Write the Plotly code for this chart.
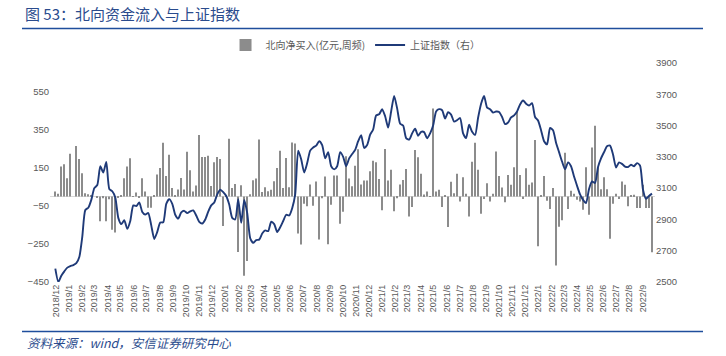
import plotly.graph_objects as go
import pandas as pd

# weekly observation dates (Fridays)
dates = pd.date_range("2018-11-30", periods=200, freq="7D")

# 北向净买入(亿元,周频) - weekly net buying
northbound = [
    26, 14, 157, 169, 96, 225, 0, 265, 197, 122,
    17, 12, 3, 0, -8, -130, -10, -130, -15, -175,
    -190, -5, 8, 96, 157, 201, 2, 21, -8, 96,
    26, -60, -60, 8, 115, 150, 283, 108, 220, 45,
    3, 36, 97, 36, 235, 138, 26, 58, 323, 207,
    207, 214, 55, 180, 208, 197, -155, 3, 303, 45,
    65, -292, 59, -417, -339, 12, 85, 95, 300, 23,
    49, 28, 35, 80, 150, 241, 45, 202, 49, 284,
    279, -195, -253, -38, -51, 63, -49, 79, -227, -9,
    105, -251, -44, 110, 110, -143, -80, 212, 94, 54,
    162, 248, 63, 84, 84, 133, 188, 180, 92, -73,
    250, 84, 140, -78, -9, 63, 87, 145, -105, -56,
    244, 206, 119, 10, 26, 2, 463, 26, 35, -56,
    5, -161, 77, 17, 119, -26, 101, 14, -105, 183,
    283, 140, -91, -14, 70, -26, 14, 236, 108, 47,
    -31, 113, 61, 154, 445, 113, -14, 148, 61, 73,
    297, -262, 3, 108, -22, -66, 44, -363, -160, -125,
    230, -66, 30, 14, -17, -26, -70, 154, -96, 257,
    372, 154, 38, 101, 38, -223, -38, 14, -14, 79,
    61, -52, 3, 9, -61, -61, 61, -61, -61, -293,
]

# 上证指数
sse = [
    2585, 2500, 2540, 2568, 2592, 2602, 2608, 2620, 2660, 2790,
    2960, 2975, 3025, 3100, 3120, 3240, 3200, 3268, 3095, 3080,
    3040, 2910, 2870, 2895, 2840, 2890, 2990, 2985, 3009, 2948,
    2931, 2941, 2862, 2775, 2820, 2880, 2882, 3000, 3030, 3000,
    2930, 2905, 2945, 2955, 2940, 2952, 2958, 2925, 2885, 2874,
    2900, 2950, 2990, 3008, 3060, 3090, 3075, 3050, 2995, 2910,
    2900, 3030, 2878, 3025, 2940, 2780, 2750, 2768, 2771, 2810,
    2830, 2825, 2885, 2870, 2820, 2850, 2890, 2930, 2925, 2972,
    3060, 3340, 3285, 3200, 3260, 3340, 3360, 3372, 3400, 3375,
    3290, 3330, 3240, 3220, 3240, 3330, 3300, 3240, 3290, 3318,
    3345, 3400, 3438, 3357, 3376, 3442, 3475, 3565, 3572, 3605,
    3560, 3487, 3590, 3690, 3610, 3512, 3500, 3420, 3410, 3450,
    3480, 3435, 3460, 3458, 3418, 3450, 3500, 3590, 3605, 3598,
    3545, 3585, 3570, 3525, 3535, 3548, 3450, 3420, 3505, 3460,
    3440, 3550, 3640, 3690, 3615, 3605, 3583, 3590, 3587, 3555,
    3510, 3520, 3552, 3565, 3590, 3635, 3660, 3640, 3628, 3643,
    3555, 3532, 3470, 3400, 3380, 3485, 3470, 3390, 3330, 3270,
    3220, 3265, 3240, 3175, 3115, 3060, 3025, 3005, 3095, 3143,
    3133, 3235, 3290, 3330, 3368, 3372, 3315, 3232, 3265, 3255,
    3238, 3235, 3250, 3240, 3260, 3245, 3090, 3032, 3050, 3065,
]

left_ticks = [-450, -250, -50, 150, 350, 550]

title_text = "图 53：北向资金流入与上证指数"
source_text = "资料来源：wind，安信证券研究中心"

TICK_COLOR = "#595959"
BLUE = "#2a4b8d"

PW = 726 - 50 - 71   # plot width in px
PH = 356 - 63 - 74   # plot height in px


def px_x(x):
    return (x - 50) / PW


def px_y(y):
    return (63 + PH - y) / PH


fig = go.Figure()
fig.add_trace(go.Bar(
    x=dates, y=northbound, name="北向净买入(亿元,周频)",
    marker=dict(color="#8c8c8c", line=dict(width=0)),
    width=2.6 * 86400000,
))
fig.add_trace(go.Scatter(
    x=dates, y=sse, name="上证指数（右）", yaxis="y2", mode="lines",
    line=dict(color="#1f3a78", width=1.9, shape="spline", smoothing=0.6),
))

fig.update_layout(
    width=726, height=356,
    margin=dict(l=50, r=71, t=63, b=74),
    paper_bgcolor="white", plot_bgcolor="white",
    font=dict(family="Liberation Sans, Noto Sans CJK SC", color=TICK_COLOR, size=9),
    showlegend=True,
    legend=dict(orientation="h", x=0.505, xanchor="center", y=px_y(45), yanchor="middle",
                font=dict(family="Noto Sans CJK SC", size=10, color=TICK_COLOR),
                bgcolor="rgba(0,0,0,0)", itemwidth=30, tracegroupgap=0),
    title=dict(text=title_text, x=25 / 726, xanchor="left", xref="container",
               y=1 - 15 / 356, yanchor="middle", yref="container",
               font=dict(family="Noto Sans CJK SC", size=15, color=BLUE)),
    xaxis=dict(type="date", range=["2018-11-17 14:00", "2022-09-30"],
               tick0="2018-12-01", dtick="M1", tickformat="%Y/%-m", tickangle=-90,
               showgrid=False, zeroline=False, showline=False, ticks="",
               tickfont=dict(size=9, color=TICK_COLOR)),
    yaxis=dict(range=[-450, 702], tickvals=left_ticks, showgrid=False,
               zeroline=True, zerolinecolor="#d9d9d9", zerolinewidth=1,
               showline=False, ticks="", tickfont=dict(size=9.5, color=TICK_COLOR)),
    yaxis2=dict(range=[2500, 3900], tick0=2500, dtick=200, overlaying="y", side="right",
                showgrid=False, zeroline=False, showline=False, ticks="",
                tickfont=dict(size=9.5, color=TICK_COLOR)),
    shapes=[
        dict(type="line", xref="paper", yref="paper", x0=px_x(22), x1=px_x(703),
             y0=px_y(28.5), y1=px_y(28.5), line=dict(color="#1f4e9c", width=1.5)),
        dict(type="line", xref="paper", yref="paper", x0=px_x(22), x1=px_x(703),
             y0=px_y(331.5), y1=px_y(331.5), line=dict(color="#1f4e9c", width=1.5)),
    ],
    annotations=[
        dict(text=source_text, xref="paper", yref="paper", x=px_x(25), xanchor="left",
             y=px_y(342), yanchor="middle", showarrow=False,
             font=dict(family="Noto Sans CJK SC", size=12.5, color=BLUE, style="italic")),
    ],
)

fig.write_html("out.html", config={"displayModeBar": False},
               post_script="document.body.style.margin='0px';document.body.style.overflow='hidden';")
